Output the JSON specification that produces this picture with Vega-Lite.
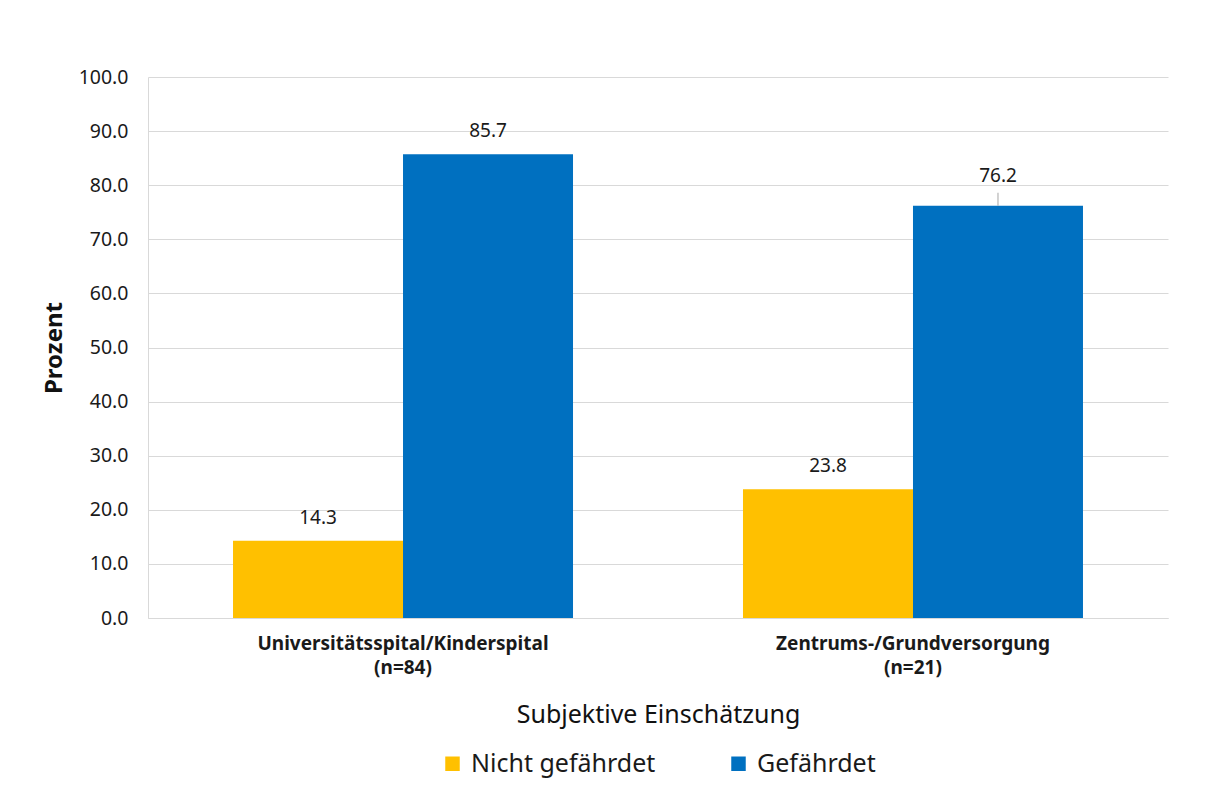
{
  "$schema": "https://vega.github.io/schema/vega-lite/v6.json",
  "autosize": "none",
  "width": 1020,
  "height": 541,
  "padding": {"left": 148, "top": 77, "right": 45, "bottom": 175},
  "background": "white",
  "config": {
    "font": "Noto Sans",
    "view": {"stroke": null},
    "axis": {"gridColor": "#d9d9d9", "domainColor": "#d9d9d9", "ticks": false, "labelColor": "#1a1a1a", "titleColor": "#111111"},
    "legend": {"layout": {"bottom": {"anchor": "middle"}}}
  },
  "data": {
    "values": [
      {"gruppe": "Universitätsspital/Kinderspital (n=84)", "status": "Nicht gefährdet", "prozent": 14.3},
      {"gruppe": "Universitätsspital/Kinderspital (n=84)", "status": "Gefährdet", "prozent": 85.7},
      {"gruppe": "Zentrums-/Grundversorgung (n=21)", "status": "Nicht gefährdet", "prozent": 23.8},
      {"gruppe": "Zentrums-/Grundversorgung (n=21)", "status": "Gefährdet", "prozent": 76.2}
    ]
  },
  "encoding": {
    "x": {
      "field": "gruppe", "type": "nominal", "sort": null,
      "scale": {"paddingInner": 0.3333, "paddingOuter": 0.1667},
      "axis": {
        "title": "Subjektive Einschätzung",
        "titleFontSize": 25, "titleFontWeight": "normal", "titlePadding": 25,
        "labelAngle": 0, "labelFontSize": 19, "labelFontWeight": "bold",
        "labelLineHeight": 24, "labelPadding": 16, "labelLimit": 500,
        "labelExpr": "[slice(datum.label, 0, indexof(datum.label, ' (')), slice(datum.label, indexof(datum.label, ' (') + 1)]",
        "domain": true, "grid": false
      }
    },
    "xOffset": {"field": "status", "type": "nominal", "sort": ["Nicht gefährdet", "Gefährdet"], "scale": {"paddingInner": 0, "paddingOuter": 0}},
    "y": {
      "field": "prozent", "type": "quantitative",
      "scale": {"domain": [0, 100], "nice": false},
      "axis": {
        "title": "Prozent", "titleFontSize": 24, "titleFontWeight": "bold", "titlePadding": 12,
        "values": [0, 10, 20, 30, 40, 50, 60, 70, 80, 90, 100],
        "format": ".1f", "labelFontSize": 19.5, "labelPadding": 20,
        "grid": true, "domain": true
      }
    }
  },
  "layer": [
    {
      "mark": {"type": "bar"},
      "encoding": {
        "color": {
          "field": "status", "type": "nominal",
          "sort": ["Nicht gefährdet", "Gefährdet"],
          "scale": {"domain": ["Nicht gefährdet", "Gefährdet"], "range": ["#FFC000", "#0070C0"]},
          "legend": {
            "title": null, "orient": "bottom", "direction": "horizontal",
            "symbolType": "square", "symbolSize": 210, "symbolStrokeWidth": 0,
            "labelFontSize": 25, "labelColor": "#1a1a1a", "labelOffset": 6, "labelLimit": 400,
            "columnPadding": 70, "offset": 24
          }
        }
      }
    },
    {
      "transform": [{"filter": "datum.prozent != 76.2"}],
      "mark": {"type": "text", "baseline": "middle", "dy": -23, "fontSize": 19, "color": "#1a1a1a"},
      "encoding": {"text": {"field": "prozent", "type": "quantitative", "format": ".1f"}}
    },
    {
      "transform": [{"filter": "datum.prozent == 76.2"}],
      "mark": {"type": "text", "baseline": "middle", "dy": -30, "fontSize": 19, "color": "#1a1a1a"},
      "encoding": {"text": {"field": "prozent", "type": "quantitative", "format": ".1f"}}
    },
    {
      "transform": [{"filter": "datum.prozent == 76.2"}],
      "mark": {"type": "rule", "color": "#a6a6a6", "strokeWidth": 1, "y2Offset": -13},
      "encoding": {"y2": {"field": "prozent"}}
    }
  ]
}
